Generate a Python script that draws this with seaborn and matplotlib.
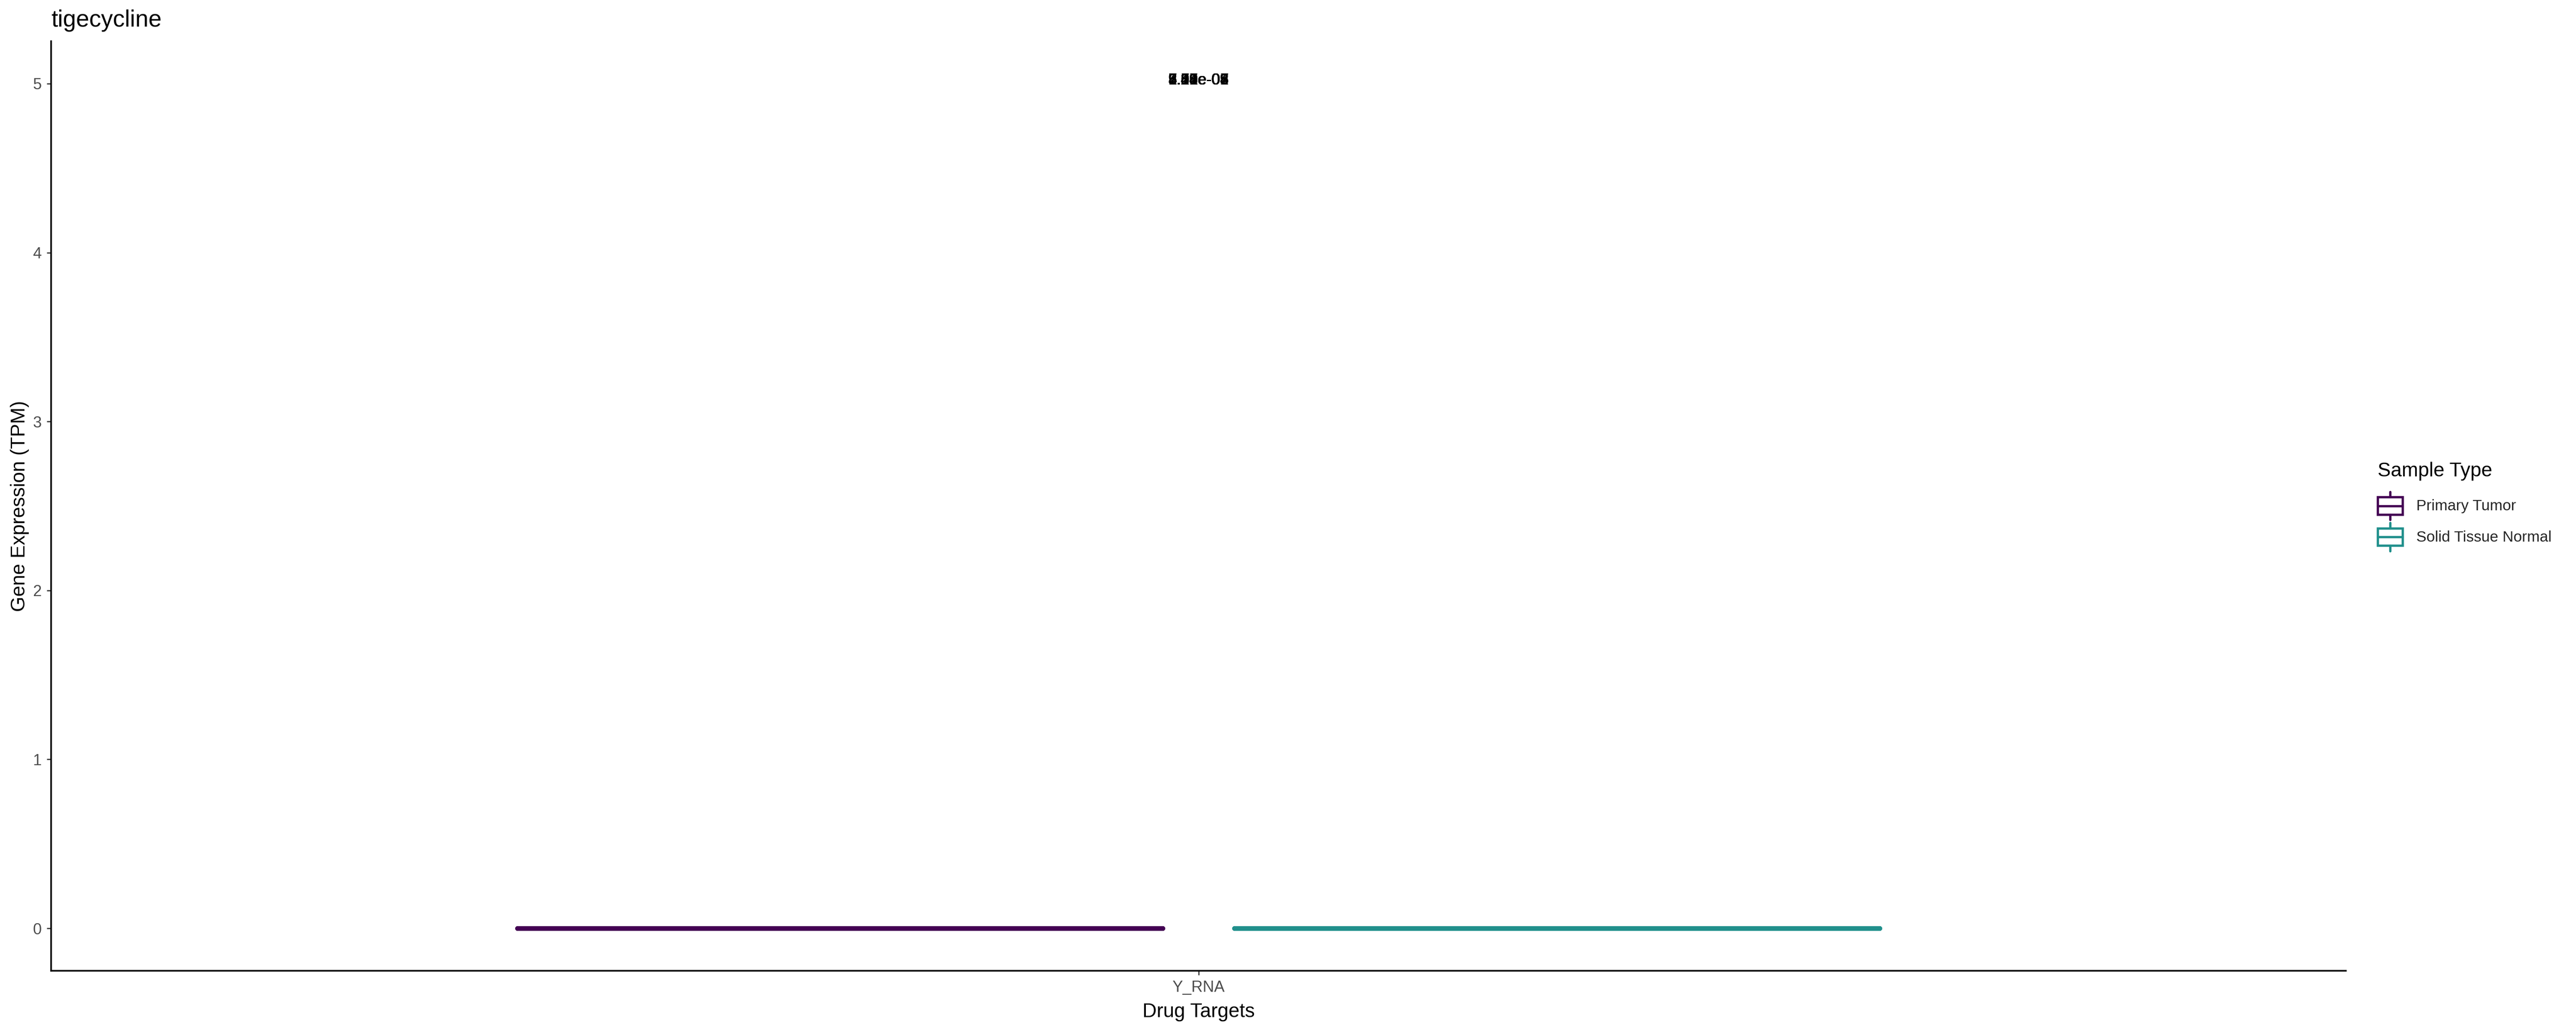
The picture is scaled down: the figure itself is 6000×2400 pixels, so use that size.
import numpy as np
import pandas as pd
import matplotlib
matplotlib.use("Agg")
import matplotlib.pyplot as plt
import seaborn as sns
from matplotlib.legend_handler import HandlerBase
from matplotlib.patches import Rectangle
from matplotlib.lines import Line2D

# ---------------- data ----------------
chart_title = "tigecycline"
legend_title = "Sample Type"
genes = ["Y_RNA"]
sample_types = ["Primary Tumor", "Solid Tissue Normal"]
primary_tumor_tpm = [0.0, 0.0, 0.0, 0.0, 0.0, 0.0, 0.0, 0.0, 0.0, 0.0]
solid_normal_tpm = [0.0, 0.0, 0.0, 0.0, 0.0, 0.0]
pvalue_labels = ["5.33e-01", "2.87e-05", "1.00e-08", "9.46e-03", "4.12e-06",
                 "7.78e-02", "3.69e-04", "6.51e-07", "8.24e-09"]
pvalue_y = 5.02
y_ticks = [0, 1, 2, 3, 4, 5]
palette_colors = ["#440154", "#21908C"]

df = pd.DataFrame({
    "gene": [genes[0]] * (len(primary_tumor_tpm) + len(solid_normal_tpm)),
    "tpm": primary_tumor_tpm + solid_normal_tpm,
    "type": [sample_types[0]] * len(primary_tumor_tpm) + [sample_types[1]] * len(solid_normal_tpm),
})

# ---------------- style ----------------
sns.set_theme(style="white")
plt.rcParams["font.family"] = ["Liberation Sans", "DejaVu Sans"]

W, H = 6000, 2400
fig = plt.figure(figsize=(20, 8), dpi=300)
ax_l, ax_r, ax_t, ax_b = 119, 5464, 96, 2262
ax = fig.add_axes([ax_l / W, 1 - ax_b / H, (ax_r - ax_l) / W, (ax_b - ax_t) / H])

sns.boxplot(data=df, x="gene", y="tpm", hue="type", hue_order=sample_types,
            palette=palette_colors, fill=False, width=0.75, gap=0.1,
            linewidth=2.6, ax=ax, legend=False)

for lab in pvalue_labels:
    ax.text(0, pvalue_y, lab, ha="center", va="center", fontsize=8.6, color="black")

ax.set_xlim(-0.6, 0.6)
ax.set_ylim(-0.2515, 5.2515)
ax.set_yticks(y_ticks)
ax.set_yticklabels([str(t) for t in y_ticks])

for s in ["top", "right"]:
    ax.spines[s].set_visible(False)
for s in ["left", "bottom"]:
    ax.spines[s].set_color("black")
    ax.spines[s].set_linewidth(0.9)

ax.tick_params(axis="both", which="both", length=2.4, width=0.65, color="#333333",
               labelcolor="#4D4D4D", labelsize=8.8, pad=3, left=True, bottom=True)
ax.set_xlabel("Drug Targets", fontsize=11, color="black", labelpad=4)
ax.set_ylabel("")
fig.text(46 / W, 1 - 1179 / H, "Gene Expression (TPM)", rotation=90,
         ha="center", va="center", fontsize=11, color="black")
fig.text(ax_l / W, 1 - 48 / H, chart_title, ha="left", va="center", fontsize=13.2, color="black")

# ---------------- legend ----------------
class BoxHandler(HandlerBase):
    def create_artists(self, legend, orig_handle, xdescent, ydescent, width, height, fontsize, trans):
        c = orig_handle.get_color()
        x0, y0 = -xdescent, -ydescent
        bw = width
        lw = 1.3
        box_b = y0 + height * 0.19
        box_t = y0 + height * 0.81
        rect = Rectangle((x0, box_b), bw, box_t - box_b, facecolor="white",
                         edgecolor=c, linewidth=lw, transform=trans)
        xm = x0 + bw / 2
        med = Line2D([x0, x0 + bw], [y0 + height / 2] * 2, color=c, lw=lw, transform=trans)
        w1 = Line2D([xm, xm], [box_t, y0 + height], color=c, lw=lw, transform=trans)
        w2 = Line2D([xm, xm], [y0, box_b], color=c, lw=lw, transform=trans)
        return [rect, med, w1, w2]

fig.text(5538 / W, 1 - 1098 / H, legend_title, ha="left", va="center",
         fontsize=11, color="black")
handles = [Line2D([], [], color=c) for c in palette_colors]
leg = fig.legend(handles, sample_types,
                 loc="upper left", bbox_to_anchor=(5538 / W, 1 - 1146 / H),
                 frameon=False, fontsize=8.5,
                 handler_map={Line2D: BoxHandler()},
                 handlelength=1.65, handleheight=2.46, labelspacing=0.2,
                 handletextpad=0.9, borderpad=0, borderaxespad=0,
                 alignment="left")

fig.savefig("out.png", dpi=300, facecolor="white")
